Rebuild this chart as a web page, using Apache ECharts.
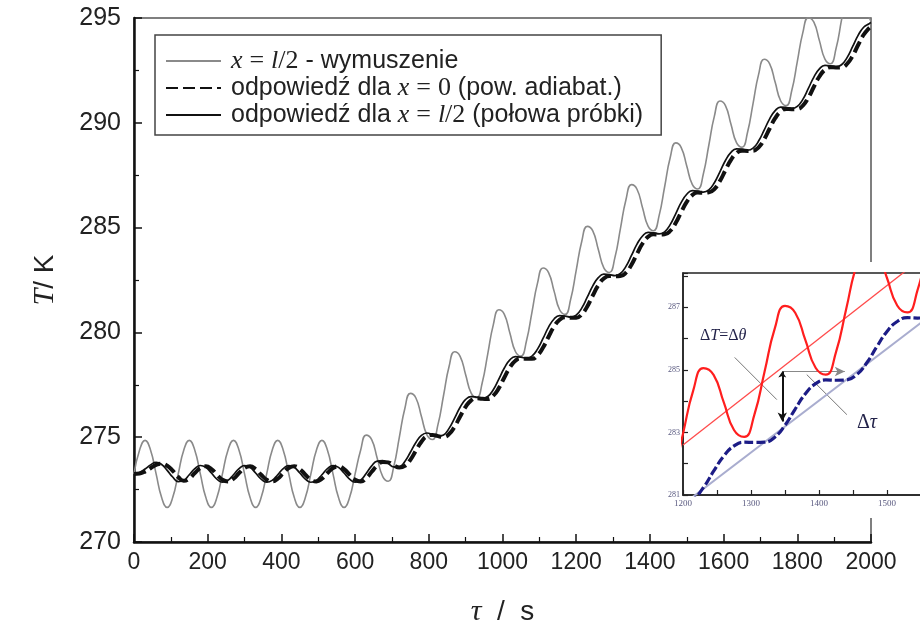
<!DOCTYPE html>
<html>
<head>
<meta charset="utf-8">
<script src="https://cdn.jsdelivr.net/npm/echarts@6/dist/echarts.min.js"></script>
<style>
html, body { margin: 0; padding: 0; background: #ffffff; }
#chart { width: 920px; height: 635px; }
</style>
</head>
<body>
<div id="chart"></div>
<script>
// time samples, s
const tau = [0,15,30,45,60,75,90,105,120,135,150,165,180,195,210,225,240,255,270,285,300,315,330,345,360,375,390,405,420,435,450,465,480,495,510,525,540,555,570,585,600,615,630,645,660,675,690,705,720,735,750,765,780,795,810,825,840,855,870,885,900,915,930,945,960,975,990,1005,1020,1035,1050,1065,1080,1095,1110,1125,1140,1155,1170,1185,1200,1215,1230,1245,1260,1275,1290,1305,1320,1335,1350,1365,1380,1395,1410,1425,1440,1455,1470,1485,1500,1515,1530,1545,1560,1575,1590,1605,1620,1635,1650,1665,1680,1695,1710,1725,1740,1755,1770,1785,1800,1815,1830,1845,1860,1875,1890,1905,1920,1935,1950,1965,1980,1995,2000];

// surface temperature (excitation), K
const excitation = [
  273.25,274.38,274.85,274.38,273.25,272.12,271.65,272.12,
  273.25,274.38,274.85,274.38,273.25,272.12,271.65,272.12,
  273.25,274.38,274.85,274.38,273.25,272.12,271.65,272.12,
  273.25,274.38,274.85,274.38,273.25,272.12,271.65,272.12,
  273.25,274.38,274.85,274.38,273.25,272.12,271.65,272.12,
  273.25,274.38,
  275.10,274.88,274.00,273.12,272.90,273.61,274.99,276.37,
  277.09,276.87,275.99,275.11,274.89,275.61,276.99,278.37,
  279.08,278.86,277.98,277.10,276.88,277.60,278.98,280.36,
  281.08,280.86,279.97,279.09,278.87,279.59,280.97,282.35,
  283.07,282.85,281.97,281.08,280.86,281.58,282.96,284.34,
  285.06,284.84,283.96,283.08,282.86,283.57,284.95,286.33,
  287.05,286.83,285.95,285.07,284.85,285.57,286.95,288.33,
  289.04,288.82,287.94,287.06,286.84,287.56,288.94,290.32,
  291.04,290.82,289.93,289.05,288.83,289.55,290.93,292.31,
  293.03,292.81,291.93,291.04,290.82,291.54,292.92,294.30,
  295.02,294.80,293.92,293.04,292.82,293.53,294.91,296.29,
  297.01,296.79,295.91,295.03,
  294.85
];

// response at the adiabatic face x = 0, K
const responseX0 = [
  273.25,273.27,273.36,273.52,273.68,273.74,273.64,273.40,273.10,272.92,
  273.02,273.29,273.53,273.61,273.48,273.21,
  272.97,272.89,273.02,273.29,273.53,273.61,273.48,273.21,
  272.97,272.89,273.02,273.29,273.53,273.61,273.48,273.21,
  272.97,272.89,273.02,273.29,273.53,273.61,273.48,273.21,
  272.97,272.89,273.04,273.35,273.65,273.82,273.80,273.66,
  273.55,273.63,273.92,274.36,274.78,275.05,275.11,275.05,
  275.02,275.15,275.50,275.99,276.45,276.76,276.86,276.83,
  276.82,276.98,277.34,277.85,278.33,278.65,278.76,278.74,
  278.74,278.91,279.28,279.79,280.28,280.60,280.72,280.70,
  280.70,280.86,281.24,281.76,282.25,282.57,282.69,282.68,
  282.69,282.85,283.23,283.75,284.24,284.56,284.68,284.67,
  284.68,284.84,285.22,285.74,286.23,286.55,286.67,286.66,
  286.68,286.84,287.22,287.74,288.23,288.55,288.67,288.66,
  288.67,288.83,289.21,289.73,290.22,290.54,290.66,290.65,
  290.66,290.82,291.20,291.72,292.21,292.53,292.65,292.64,
  292.65,292.81,293.19,293.71,294.20,294.52,
  294.58
];

// response at half of the sample, K
const responseHalf = [
  273.25,273.32,273.48,273.68,273.80,273.70,273.42,273.10,272.88,272.94,
  273.21,273.50,273.65,273.56,273.29,273.00,
  272.85,272.94,273.21,273.50,273.65,273.56,273.29,273.00,
  272.85,272.94,273.21,273.50,273.65,273.56,273.29,273.00,
  272.85,272.94,273.21,273.50,273.65,273.56,273.29,273.00,
  272.85,272.95,273.27,273.63,273.86,273.88,273.74,273.58,
  273.59,273.84,274.28,274.75,275.09,275.20,275.13,275.05,
  275.11,275.42,275.91,276.43,276.80,276.94,276.91,276.85,
  276.94,277.26,277.77,278.30,278.69,278.84,278.82,278.77,
  278.87,279.20,279.71,280.25,280.64,280.80,280.78,280.73,
  280.82,281.16,281.68,282.22,282.61,282.78,282.76,282.71,
  282.81,283.15,283.67,284.21,284.60,284.77,284.75,284.70,
  284.80,285.14,285.66,286.20,286.59,286.76,286.74,286.69,
  286.80,287.14,287.66,288.20,288.59,288.76,288.74,288.69,
  288.79,289.13,289.65,290.19,290.58,290.75,290.73,290.68,
  290.78,291.12,291.64,292.18,292.57,292.74,292.72,292.67,
  292.77,293.11,293.63,294.17,294.56,294.73,
  294.78
];

// linear trends shown in the zoomed window
const trendTau = [1200, 1600];
const trendExcitation = [282.6, 289.4];
const trendResponse = [280.7, 287.34];

const seriesNames = [
  'x = l/2 - wymuszenie',
  'odpowiedź dla x = 0 (pow. adiabat.)',
  'odpowiedź dla x = l/2 (połowa próbki)'
];
const legendRich = [
  '{i|x} {m|=} {i|l}{m|/2} - wymuszenie',
  'odpowiedź dla {i|x} {m|=} {m|0} (pow. adiabat.)',
  'odpowiedź dla {i|x} {m|=} {i|l}{m|/2} (połowa próbki)'
];

const pairs = (xs, ys) => xs.map((x, i) => [x, ys[i]]);
const plain = v => String(v);

const chart = echarts.init(document.getElementById('chart'), null, { renderer: 'canvas' });

const sansFont = 'Liberation Sans, Arial, sans-serif';
const serifFont = 'Liberation Serif, Times New Roman, serif';

const option = {
  animation: false,
  backgroundColor: '#ffffff',
  grid: [
    { left: 134, top: 18, width: 737, height: 524, show: true, outerBoundsMode: 'none',
      borderColor: '#555', borderWidth: 1.5, backgroundColor: 'transparent', z: 0 },
    { left: 683, top: 273, width: 272, height: 222, show: true, outerBoundsMode: 'none',
      borderColor: '#222', borderWidth: 1.5, backgroundColor: '#ffffff', z: 4 }
  ],
  xAxis: [
    {
      type: 'value', gridIndex: 0, min: 0, max: 2000, interval: 200,
      name: '{i|τ}  /  s', nameLocation: 'middle', nameGap: 55,
      nameTextStyle: { fontFamily: sansFont, fontSize: 28, color: '#222',
        rich: { i: { fontFamily: serifFont, fontStyle: 'italic', fontSize: 30, color: '#222' } } },
      axisLine: { show: true, lineStyle: { color: '#111', width: 2.5 } },
      axisTick: { show: true, inside: true, length: 8, lineStyle: { color: '#111', width: 1.5 } },
      minorTick: { show: true, splitNumber: 2, length: 5, lineStyle: { color: '#111', width: 1.2 } },
      splitLine: { show: false },
      axisLabel: { fontFamily: sansFont, fontSize: 23, color: '#222', margin: 9, formatter: plain }
    },
    {
      type: 'value', gridIndex: 1, min: 1200, max: 1600, interval: 100, z: 5,
      axisLine: { show: true, lineStyle: { color: '#222', width: 1.5 } },
      axisTick: { show: true, inside: true, length: 5, lineStyle: { color: '#222', width: 1.2 } },
      minorTick: { show: true, splitNumber: 2, length: 5, lineStyle: { color: '#222', width: 1.2 } },
      splitLine: { show: false },
      axisLabel: { fontFamily: serifFont, fontSize: 9, color: '#5a5a80', margin: 4, formatter: plain }
    }
  ],
  yAxis: [
    {
      type: 'value', gridIndex: 0, min: 270, max: 295, interval: 5,
      name: '{i|T}/ K', nameLocation: 'middle', nameRotate: 90, nameGap: 74,
      nameTextStyle: { fontFamily: sansFont, fontSize: 28, color: '#222',
        rich: { i: { fontFamily: serifFont, fontStyle: 'italic', fontSize: 30, color: '#222' } } },
      axisLine: { show: true, lineStyle: { color: '#111', width: 2.5 } },
      axisTick: { show: true, inside: true, length: 8, lineStyle: { color: '#111', width: 1.5 } },
      minorTick: { show: true, splitNumber: 2, length: 5, lineStyle: { color: '#111', width: 1.2 } },
      splitLine: { show: false },
      axisLabel: { fontFamily: sansFont, fontSize: 25, color: '#222', margin: 13, formatter: plain }
    },
    {
      type: 'value', gridIndex: 1, min: 281, max: 288.1, interval: 2, z: 5,
      axisLine: { show: true, lineStyle: { color: '#222', width: 1.5 } },
      axisTick: { show: true, inside: true, length: 5, lineStyle: { color: '#222', width: 1.2 } },
      minorTick: { show: true, splitNumber: 2, length: 5, lineStyle: { color: '#222', width: 1.2 } },
      splitLine: { show: false },
      axisLabel: { fontFamily: serifFont, fontSize: 8, color: '#5a5a80', margin: 3, showMaxLabel: false, formatter: plain }
    }
  ],
  legend: {
    left: 155, top: 35, orient: 'vertical',
    itemWidth: 55, itemHeight: 14, itemGap: 1,
    padding: [13, 18, 7, 10],
    borderColor: '#444', borderWidth: 1.5, backgroundColor: '#ffffff',
    itemStyle: { opacity: 0 },
    data: seriesNames,
    formatter: name => legendRich[seriesNames.indexOf(name)],
    textStyle: {
      fontFamily: sansFont, fontSize: 25, color: '#222', padding: [0, 0, 0, 5],
      rich: {
        i: { fontFamily: serifFont, fontStyle: 'italic', fontSize: 26, color: '#222' },
        m: { fontFamily: serifFont, fontSize: 26, color: '#222' }
      }
    }
  },
  graphic: [
    { type: 'rect', z: 3, silent: true,
      shape: { x: 668, y: 262, width: 260, height: 256 },
      style: { fill: '#ffffff' } },
    { type: 'text', z: 10, silent: true, left: 700, top: 328,
      style: { text: '{g|Δ}{i|T}{g|=Δ}{i|θ}', fill: '#23234a',
        rich: {
          g: { fontFamily: serifFont, fontSize: 16, fill: '#23234a' },
          i: { fontFamily: serifFont, fontStyle: 'italic', fontSize: 16, fill: '#23234a' }
        } } },
    { type: 'text', z: 10, silent: true, left: 857, top: 413,
      style: { text: '{g|Δ}{i|τ}', fill: '#23234a',
        rich: {
          g: { fontFamily: serifFont, fontSize: 20, fill: '#23234a' },
          i: { fontFamily: serifFont, fontStyle: 'italic', fontSize: 20, fill: '#23234a' }
        } } }
  ],
  series: [
    {
      name: seriesNames[0], type: 'line', xAxisIndex: 0, yAxisIndex: 0,
      data: pairs(tau, excitation), smooth: 0.5, symbol: 'none', clip: true, z: 2,
      lineStyle: { color: '#8a8a8a', width: 1.6 }, itemStyle: { color: '#8a8a8a' }
    },
    {
      name: seriesNames[1], type: 'line', xAxisIndex: 0, yAxisIndex: 0,
      data: pairs(tau, responseX0), smooth: 0.5, symbol: 'none', clip: true, z: 2,
      lineStyle: { color: '#111', width: 4, type: [12, 5] }, itemStyle: { color: '#111' }
    },
    {
      name: seriesNames[2], type: 'line', xAxisIndex: 0, yAxisIndex: 0,
      data: pairs(tau, responseHalf), smooth: 0.5, symbol: 'none', clip: true, z: 2,
      lineStyle: { color: '#111', width: 1.7 }, itemStyle: { color: '#111' }
    },
    // zoomed window
    {
      name: 'trend-response', type: 'line', xAxisIndex: 1, yAxisIndex: 1,
      data: pairs(trendTau, trendResponse), symbol: 'none', clip: true, z: 6,
      lineStyle: { color: '#a9adcf', width: 2 },
      markLine: {
        silent: true, animation: false, label: { show: false }, symbol: ['none', 'none'],
        data: [
          [{ coord: [1276, 285.4], lineStyle: { color: '#777', width: 1, type: 'solid' } }, { coord: [1338, 284.05] }],
          [{ coord: [1382, 284.85], lineStyle: { color: '#777', width: 1, type: 'solid' } }, { coord: [1441, 283.57] }],
          [{ coord: [1346, 284.95], symbol: 'none', lineStyle: { color: '#888', width: 1, type: 'solid' } }, { coord: [1438, 284.95], symbol: 'arrow', symbolSize: [7, 10] }],
          [{ coord: [1346, 283.35], symbol: 'arrow', symbolSize: [7, 9], lineStyle: { color: '#111', width: 2, type: 'solid' } }, { coord: [1346, 284.95], symbol: 'arrow', symbolSize: [6, 6] }]
        ]
      }
    },
    {
      name: 'trend-excitation', type: 'line', xAxisIndex: 1, yAxisIndex: 1,
      data: pairs(trendTau, trendExcitation), symbol: 'none', clip: true, z: 6,
      lineStyle: { color: '#ff4a4a', width: 1.3 }
    },
    {
      name: 'zoom-excitation', type: 'line', xAxisIndex: 1, yAxisIndex: 1,
      data: pairs(tau, excitation), smooth: 0.5, symbol: 'none', clip: true, z: 7,
      lineStyle: { color: '#ff1e1e', width: 2.2 }
    },
    {
      name: 'zoom-response', type: 'line', xAxisIndex: 1, yAxisIndex: 1,
      data: pairs(tau, responseX0), smooth: 0.5, symbol: 'none', clip: true, z: 7,
      lineStyle: { color: '#1c1c86', width: 3.2, type: [9, 3] }
    }
  ]
};

chart.setOption(option);
</script>
</body>
</html>
